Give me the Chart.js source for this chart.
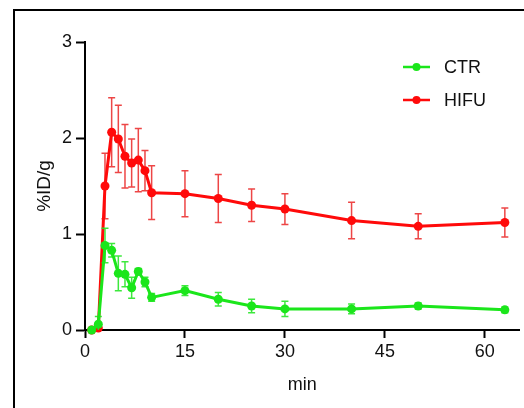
<!DOCTYPE html>
<html>
<head>
<meta charset="utf-8">
<script src="https://cdn.jsdelivr.net/npm/chart.js@4/dist/chart.umd.min.js"></script>
<style>
html,body{margin:0;padding:0;background:#fff;}
#wrap{position:relative;width:524px;height:408px;}
</style>
</head>
<body>
<div id="wrap"><canvas id="c" width="524" height="408"></canvas></div>
<script>
const times = [1, 2, 3, 4, 5, 6, 7, 8, 9, 10, 15, 20, 25, 30, 40, 50, 63];
const ctrValues = [0.00, 0.06, 0.88, 0.83, 0.59, 0.58, 0.44, 0.61, 0.50, 0.34, 0.41, 0.32, 0.25, 0.22, 0.22, 0.25, 0.21];
const ctrErrors = [0.01, 0.08, 0.18, 0.07, 0.18, 0.13, 0.11, 0.03, 0.05, 0.04, 0.05, 0.07, 0.07, 0.08, 0.05, 0.03, 0.03];
const hifuValues = [0.00, 0.02, 1.50, 2.06, 1.99, 1.81, 1.74, 1.77, 1.66, 1.43, 1.42, 1.37, 1.30, 1.26, 1.14, 1.08, 1.12];
const hifuErrors = [0.01, 0.02, 0.34, 0.36, 0.35, 0.33, 0.25, 0.33, 0.21, 0.28, 0.24, 0.25, 0.17, 0.16, 0.19, 0.13, 0.15];
const xTicks = [0, 15, 30, 45, 60];
const yTicks = [0, 1, 2, 3];
const seriesNames = ['CTR', 'HIFU'];

const FONT = "'Liberation Sans', Arial, Helvetica, sans-serif";
const GREEN = '#1be61b';
const RED = '#ff0a0a';

const toPoints = (vals) => times.map((t, i) => ({x: t, y: vals[i]}));

const errorBarPlugin = {
  id: 'errorBars',
  beforeDatasetDraw(chart, args) {
    const ds = chart.data.datasets[args.index];
    const errs = ds.errors;
    if (!errs) return;
    const xs = chart.scales.x, ys = chart.scales.y;
    const ctx = chart.ctx;
    ctx.save();
    ctx.strokeStyle = ds.errorColor;
    ctx.lineWidth = 1.5;
    ds.data.forEach((p, i) => {
      const e = errs[i];
      const px = xs.getPixelForValue(p.x);
      const yt = ys.getPixelForValue(p.y + e);
      const yb = ys.getPixelForValue(Math.max(p.y - e, 0));
      const cap = 3.5;
      ctx.beginPath();
      ctx.moveTo(px, yt); ctx.lineTo(px, yb);
      ctx.moveTo(px - cap, yt); ctx.lineTo(px + cap, yt);
      if (p.y - e > 0) { ctx.moveTo(px - cap, yb); ctx.lineTo(px + cap, yb); }
      ctx.stroke();
    });
    ctx.restore();
  }
};

const legendFramePlugin = {
  id: 'legendFrame',
  beforeDraw(chart) {
    const ctx = chart.ctx;
    ctx.save();
    ctx.fillStyle = '#000';
    ctx.fillRect(13, 9, 2, 408);
    ctx.fillRect(13, 9, 524, 2);
    ctx.restore();
  },
  afterDraw(chart) {
    const ctx = chart.ctx;
    ctx.save();
    chart.data.datasets.forEach((ds, i) => {
      const y = 67 + i * 33;
      ctx.strokeStyle = ds.borderColor;
      ctx.lineWidth = 2.5;
      ctx.beginPath();
      ctx.moveTo(403, y); ctx.lineTo(430, y);
      ctx.stroke();
      ctx.fillStyle = ds.borderColor;
      ctx.beginPath();
      ctx.arc(416.5, y, 4, 0, Math.PI * 2);
      ctx.fill();
      ctx.fillStyle = '#111';
      ctx.font = '18px ' + FONT;
      ctx.textAlign = 'left';
      ctx.textBaseline = 'middle';
      ctx.fillText(ds.label, 444, y + 1);
    });
    ctx.restore();
  }
};

new Chart(document.getElementById('c'), {
  type: 'line',
  data: {
    datasets: [
      {
        label: seriesNames[0],
        data: toPoints(ctrValues),
        errors: ctrErrors,
        borderColor: GREEN,
        backgroundColor: GREEN,
        errorColor: 'rgba(40,230,40,0.9)',
        borderWidth: 3,
        pointRadius: 4.5,
        pointBorderWidth: 0,
        tension: 0,
        clip: false
      },
      {
        label: seriesNames[1],
        data: toPoints(hifuValues),
        errors: hifuErrors,
        borderColor: RED,
        backgroundColor: RED,
        errorColor: 'rgba(235,50,50,0.9)',
        borderWidth: 3,
        pointRadius: 4.5,
        pointBorderWidth: 0,
        tension: 0,
        clip: false
      }
    ]
  },
  options: {
    responsive: false,
    animation: false,
    layout: {padding: {top: 42, right: 4, bottom: 0, left: 0}},
    plugins: {legend: {display: false}, tooltip: {enabled: false}},
    scales: {
      x: {
        type: 'linear',
        min: 0,
        max: 65.2,
        afterBuildTicks: (s) => { s.ticks = xTicks.map(v => ({value: v})); },
        afterFit: (s) => { s.height = 78; },
        grid: {drawOnChartArea: false, drawTicks: true, tickLength: 8, tickWidth: 2, tickColor: '#000'},
        border: {display: true, color: '#000', width: 2},
        ticks: {color: '#111', font: {family: FONT, size: 18}, padding: 3, maxRotation: 0},
        title: {display: true, text: 'min', color: '#111', font: {family: FONT, size: 18}, padding: {top: 0, bottom: 12}}
      },
      y: {
        min: 0,
        max: 3,
        afterBuildTicks: (s) => { s.ticks = yTicks.map(v => ({value: v})); },
        afterFit: (s) => { s.width = 85; },
        grid: {drawOnChartArea: false, drawTicks: true, tickLength: 9, tickWidth: 2, tickColor: '#000'},
        border: {display: true, color: '#000', width: 2},
        ticks: {color: '#111', font: {family: FONT, size: 18}, padding: 4},
        title: {display: true, text: '%ID/g', color: '#111', font: {family: FONT, size: 19}, padding: {top: 33, bottom: 0}}
      }
    }
  },
  plugins: [errorBarPlugin, legendFramePlugin]
});
</script>
</body>
</html>
